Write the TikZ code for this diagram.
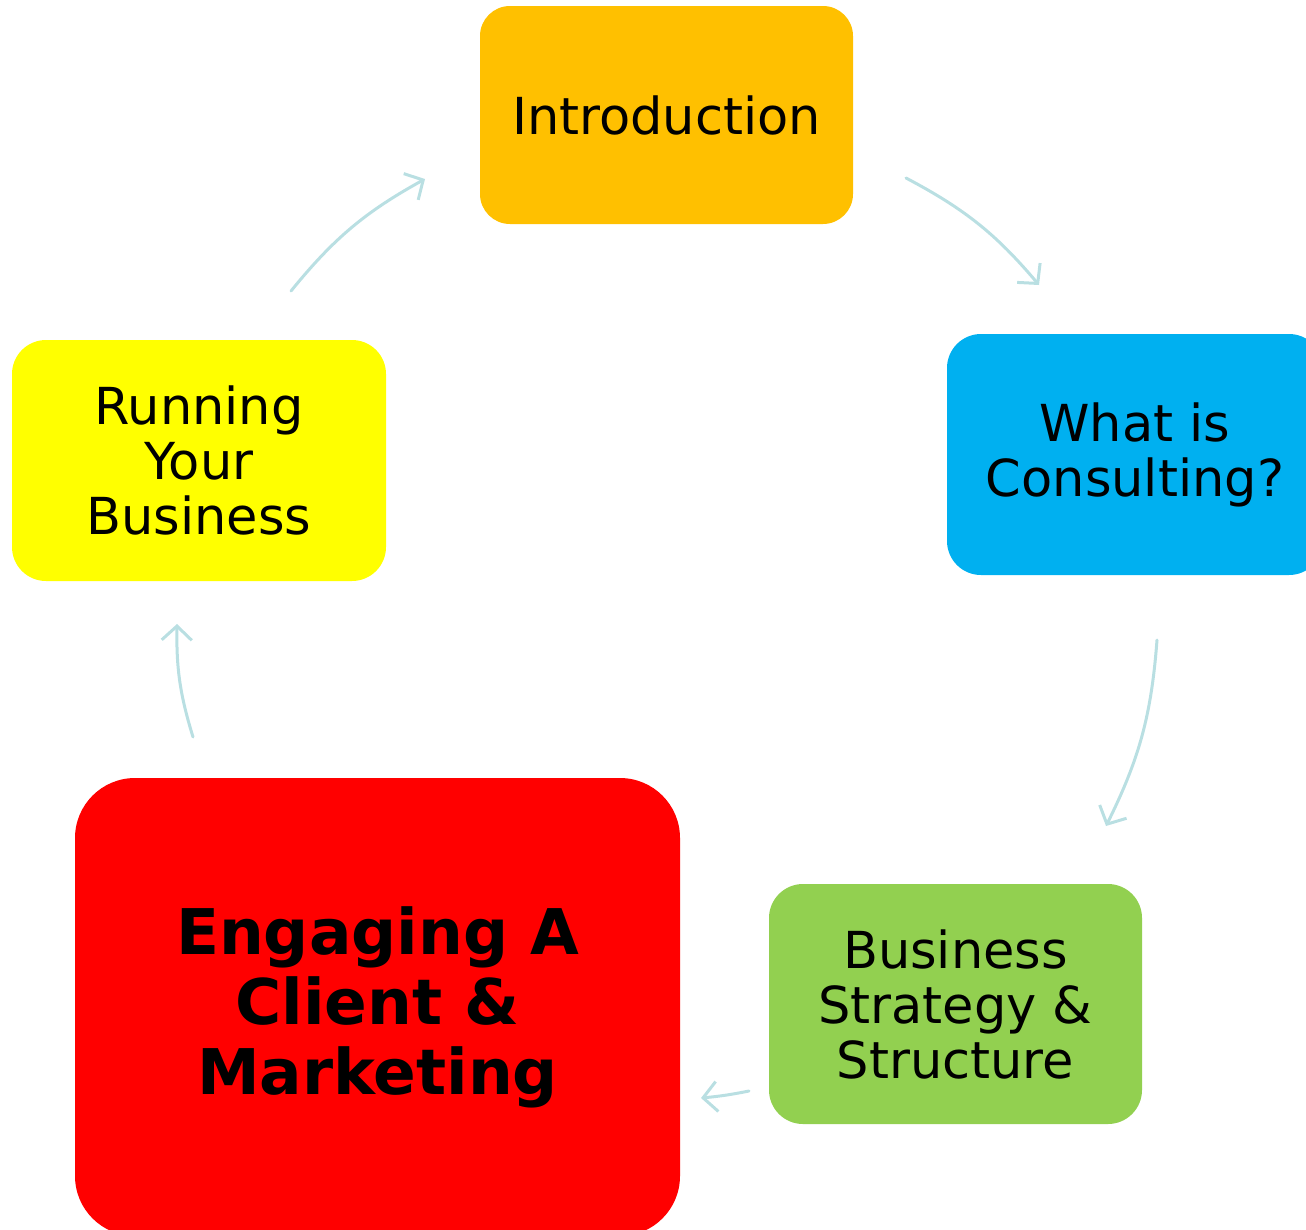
\documentclass[tikz,border=0pt]{standalone}
\usepackage{fontspec}
\setmainfont{DejaVu Sans}
\usetikzlibrary{arrows.meta}
\definecolor{cOrange}{HTML}{FFC000}
\definecolor{cBlue}{HTML}{00B0F0}
\definecolor{cGreen}{HTML}{92D050}
\definecolor{cRed}{HTML}{FF0000}
\definecolor{cYellow}{HTML}{FFFF00}
\definecolor{cArrow}{HTML}{B9DFE2}
\tikzset{
  box/.style={rectangle, rounded corners=34pt, inner sep=0pt, align=center,
    text=black, font=\fontsize{51}{55}\selectfont},
  flow/.style={draw=cArrow, line width=3pt, line cap=round,
    -{Straight Barb[length=14pt, width=30pt, line width=3pt]}, bend left=11},
}
\begin{document}
\begin{tikzpicture}[x=1pt, y=-1pt]
\useasboundingbox (0,0) rectangle (1306,1229);
\begin{scope}
\clip (0,0) rectangle (1306,1229);
\node[box, fill=cOrange, rounded corners=30pt, minimum width=373pt, minimum height=218pt] (intro) at (666.5,115) {Introduction};
\node[box, fill=cBlue, minimum width=376pt, minimum height=241pt] (what) at (1135,454.5) {What is\\Consulting?};
\node[box, fill=cGreen, minimum width=373pt, minimum height=240pt] (biz) at (955.5,1004) {Business\\Strategy \&\\Structure};
\node[box, fill=cRed, rounded corners=60pt, minimum width=605pt, minimum height=458pt, font=\bfseries\fontsize{63}{70}\selectfont] (eng) at (377.5,1007) {Engaging A\\Client \&\\Marketing};
\node[box, fill=cYellow, minimum width=374pt, minimum height=241pt] (run) at (199,460.5) {Running\\Your\\Business};
\end{scope}
\coordinate (a1s) at (291,291); \coordinate (a1e) at (425,179);
\coordinate (a2s) at (906,178); \coordinate (a2e) at (1039,285);
\coordinate (a3s) at (1157,640); \coordinate (a3e) at (1106,826);
\coordinate (a4s) at (749,1091); \coordinate (a4e) at (701,1098);
\coordinate (a5s) at (193,737); \coordinate (a5e) at (177,624);
\draw[flow] (a1s) to (a1e);
\draw[flow] (a2s) to (a2e);
\draw[flow] (a3s) to (a3e);
\draw[flow, bend left=3] (a4s) to (a4e);
\draw[flow, bend left=9] (a5s) to (a5e);
\end{tikzpicture}
\end{document}
